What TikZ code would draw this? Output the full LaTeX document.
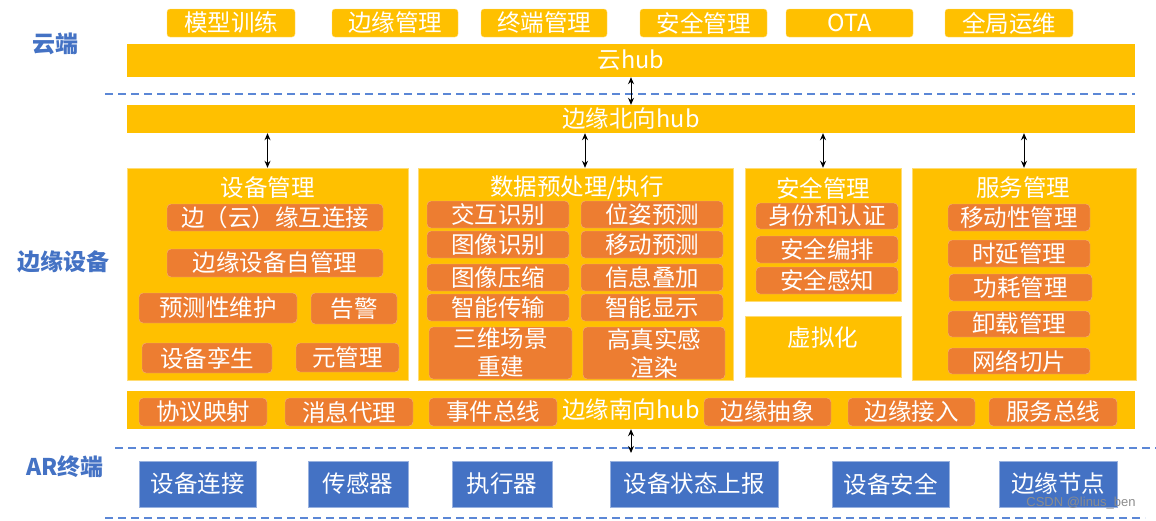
\documentclass[tikz,border=0pt]{standalone}
\usepackage{fontspec}
\setmainfont{Noto Sans CJK SC}
\newfontfamily\markfont{Liberation Sans}
\usetikzlibrary{arrows.meta,positioning}
\definecolor{hubyellow}{HTML}{FFC000}
\definecolor{itemorange}{HTML}{ED7D31}
\definecolor{termblue}{HTML}{4472C4}
\definecolor{labelblue}{HTML}{4472C4}
\definecolor{layerline}{HTML}{5B87D6}
\tikzset{
    sz/.style 2 args={minimum width=#1pt,minimum height=#2pt},
    layer label/.style={text=labelblue,font=\fontsize{23}{26}\selectfont\bfseries},
    big text/.style={text=white,font=\fontsize{23.5}{28}\selectfont},
    ybox/.style={big text,fill=hubyellow,draw=hubyellow!55!white,thin,rounded corners=3pt,inner sep=0pt},
    hub/.style={big text,fill=hubyellow,draw=none,inner sep=0pt},
    section/.style={fill=hubyellow,draw=hubyellow!55!white,thin,inner sep=0pt},
    title/.style={big text,inner sep=0pt},
    item/.style={big text,fill=itemorange,draw=itemorange!60!white,thin,rounded corners=4pt,inner sep=0pt,align=center},
    term/.style={big text,fill=termblue,draw=termblue!55!white,thin,inner sep=0pt},
    layer line/.style={draw=layerline,line width=1.5pt,dash pattern=on 8pt off 5pt},
    dblarr/.style={<->,>={Stealth[length=7pt,width=6pt]},line width=1pt},
    watermark/.style={text=black!45,font=\markfont\fontsize{13}{15}\selectfont,inner sep=0pt},
}

\begin{document}
\begin{tikzpicture}[x=1pt,y=-1pt]
    \useasboundingbox (0,0) rectangle (1156,520);

    % layer names
    \node[layer label] (lcloud) at (55,44) {云端};
    \node[layer label] (ledge) at (63,262) {边缘设备};
    \node[layer label] (lar) at (65,467) {AR终端};

    % cloud
    \node[ybox, sz={128}{28}] (train) at (231,23) {模型训练};
    \node[ybox, sz={126}{28}] (edgemgmt) at (395,23) {边缘管理};
    \node[ybox, sz={126}{28}] (termmgmt) at (544,23) {终端管理};
    \node[ybox, sz={127}{28}] (secmgmt) at (703.5,23) {安全管理};
    \node[ybox, sz={127}{28}] (ota) at (849.5,23) {OTA};
    \node[ybox, sz={128}{28}] (globalops) at (1009,23) {全局运维};
    \node[hub, sz={1008}{33}] (cloudhub) at (631,60.5) {云hub};

    \draw[layer line] (105,94) -- (1135,94);

    % edge
    \node[hub, sz={1008}{28}] (northhub) at (631,119) {边缘北向hub};
    \draw[dblarr] (cloudhub) -- (northhub);

    \node[section, sz={281}{212}] (devsec) at (267.5,274) {};
    \node[title] (devtitle) at (267.5,188) {设备管理};
    \node[item, sz={216}{27}] (dev1) at (275,217.5) {边（云）缘互连接};
    \node[item, sz={216}{28}] (dev2) at (275,263) {边缘设备自管理};
    \node[item, sz={158}{30}] (dev3) at (218,308) {预测性维护};
    \node[item, sz={86}{31}] (dev4) at (354,308.5) {告警};
    \node[item, sz={130}{30}] (dev5) at (207,358) {设备孪生};
    \node[item, sz={103}{29}] (dev6) at (347.5,357.5) {元管理};

    \node[section, sz={315}{212}] (datasec) at (575.5,274) {};
    \node[title] (datatitle) at (577,188) {数据预处理/执行};
    \node[item, sz={142}{27}] (data1) at (498,214.5) {交互识别};
    \node[item, sz={142}{27}] (data2) at (498,244.5) {图像识别};
    \node[item, sz={142}{27}] (data3) at (498,277.5) {图像压缩};
    \node[item, sz={142}{27}] (data4) at (498,307.5) {智能传输};
    \node[item, sz={143}{52}] (data5) at (500.5,353) {三维场景\\重建};
    \node[item, sz={142}{27}] (data6) at (652,214.5) {位姿预测};
    \node[item, sz={142}{27}] (data7) at (652,244.5) {移动预测};
    \node[item, sz={142}{27}] (data8) at (652,277.5) {信息叠加};
    \node[item, sz={142}{27}] (data9) at (652,307.5) {智能显示};
    \node[item, sz={142}{52}] (data10) at (654,353) {高真实感\\渲染};

    \node[section, sz={156}{133}] (secsec) at (823,234.5) {};
    \node[title] (sectitle) at (823,188) {安全管理};
    \node[item, sz={142}{26}] (sec1) at (827,216) {身份和认证};
    \node[item, sz={142}{27}] (sec2) at (827,249.5) {安全编排};
    \node[item, sz={142}{27}] (sec3) at (827,280.5) {安全感知};
    \node[section, big text, sz={156}{61}, text depth=20pt] (virt) at (823,346.5) {虚拟化};

    \node[section, sz={224}{212}] (servsec) at (1024,274) {};
    \node[title] (servtitle) at (1023,188) {服务管理};
    \node[item, sz={142}{27}] (serv1) at (1019,217.5) {移动性管理};
    \node[item, sz={142}{27}] (serv2) at (1019,253.5) {时延管理};
    \node[item, sz={143}{27}] (serv3) at (1020.5,287.5) {功耗管理};
    \node[item, sz={142}{26}] (serv4) at (1019,324) {卸载管理};
    \node[item, sz={142}{26}] (serv5) at (1019,361) {网络切片};

    \draw[dblarr] (northhub.south -| devsec) -- (devsec.north);
    \draw[dblarr] ([xshift=9.5pt]datasec.north |- northhub.south) -- ([xshift=9.5pt]datasec.north);
    \draw[dblarr] (northhub.south -| secsec) -- (secsec.north);
    \draw[dblarr] (northhub.south -| servsec) -- (servsec.north);

    \node[hub, sz={1008}{38}] (southhub) at (631,410) {边缘南向hub};
    \node[item, sz={128}{28}] (south1) at (203,412) {协议映射};
    \node[item, sz={128}{28}] (south2) at (349,412) {消息代理};
    \node[item, sz={128}{28}] (south3) at (493,412) {事件总线};
    \node[item, sz={127}{28}] (south4) at (767.5,412) {边缘抽象};
    \node[item, sz={127}{28}] (south5) at (911.5,412) {边缘接入};
    \node[item, sz={128}{28}] (south6) at (1053,412) {服务总线};

    \draw[layer line] (115,448) -- (1156,448);
    \coordinate (arend) at (631,453);
    \draw[dblarr] (southhub.south) -- (arend);

    % AR terminal
    \node[term, sz={117}{46}] (term1) at (197.5,484) {设备连接};
    \node[term, sz={100}{46}] (term2) at (358,484) {传感器};
    \node[term, sz={100}{46}] (term3) at (502,484) {执行器};
    \node[term, sz={168}{46}] (term4) at (694,484) {设备状态上报};
    \node[term, sz={117}{46}] (term5) at (890.5,484) {设备安全};
    \node[term, sz={118}{46}] (term6) at (1058,484) {边缘节点};
    \node[watermark] (wm) at (1081,503) {CSDN @linus\_ben};

    \draw[layer line, line width=2.5pt] (105,518) -- (1145,518);
\end{tikzpicture}
\end{document}
